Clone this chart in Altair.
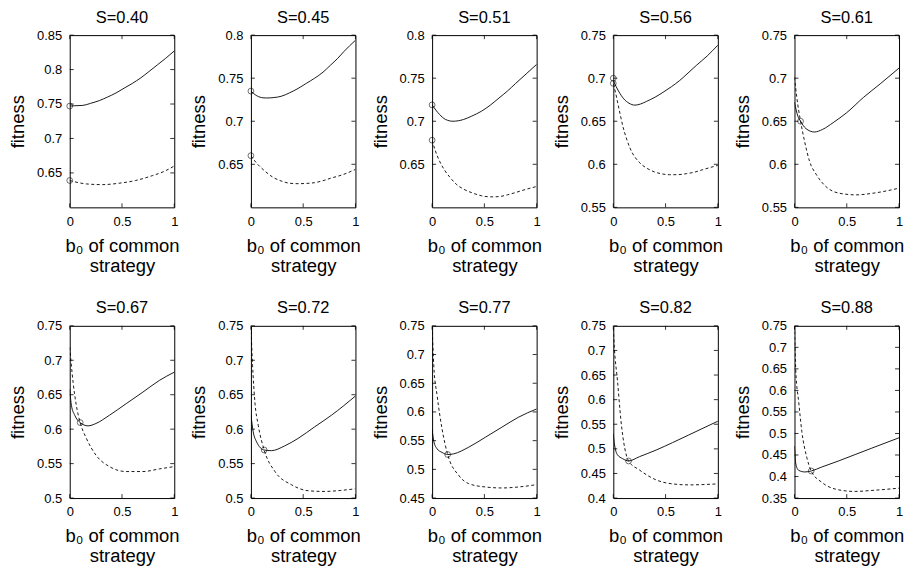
import altair as alt
import pandas as pd

FONT = "Liberation Sans"
W, H = 105, 173

S_LABELS = ["S=0.40", "S=0.45", "S=0.51", "S=0.56", "S=0.61",
            "S=0.67", "S=0.72", "S=0.77", "S=0.82", "S=0.88"]

Y_DOMAINS = [[0.6, 0.85], [0.6, 0.8], [0.6, 0.8], [0.55, 0.75], [0.55, 0.75],
             [0.5, 0.75], [0.5, 0.75], [0.45, 0.75], [0.4, 0.75], [0.35, 0.75]]

Y_TICKS = [
    [0.65, 0.7, 0.75, 0.8, 0.85],
    [0.65, 0.7, 0.75, 0.8],
    [0.65, 0.7, 0.75, 0.8],
    [0.55, 0.6, 0.65, 0.7, 0.75],
    [0.55, 0.6, 0.65, 0.7, 0.75],
    [0.5, 0.55, 0.6, 0.65, 0.7, 0.75],
    [0.5, 0.55, 0.6, 0.65, 0.7, 0.75],
    [0.45, 0.5, 0.55, 0.6, 0.65, 0.7, 0.75],
    [0.4, 0.45, 0.5, 0.55, 0.6, 0.65, 0.7, 0.75],
    [0.35, 0.4, 0.45, 0.5, 0.55, 0.6, 0.65, 0.7, 0.75],
]

X_TICKS = [0, 0.5, 1]

# solid curves (x, fitness)
SOLID_1 = [(0, 0.747), (0.05, 0.7475), (0.126, 0.748), (0.2, 0.751), (0.284, 0.755), (0.36, 0.760),
           (0.442, 0.766), (0.52, 0.773), (0.6, 0.780), (0.68, 0.788), (0.757, 0.797), (0.84, 0.807),
           (0.915, 0.816), (1, 0.827)]
SOLID_2 = [(0, 0.735), (0.05, 0.730), (0.1, 0.7275), (0.15, 0.727), (0.22, 0.7275), (0.29, 0.729),
           (0.37, 0.733), (0.45, 0.738), (0.53, 0.744), (0.61, 0.750), (0.69, 0.757), (0.76, 0.765),
           (0.83, 0.773), (0.89, 0.781), (1, 0.794)]
SOLID_3 = [(0, 0.719), (0.07, 0.708), (0.13, 0.702), (0.2, 0.700), (0.3, 0.702), (0.38, 0.706),
           (0.47, 0.7115), (0.56, 0.719), (0.64, 0.727), (0.72, 0.735), (0.8, 0.744), (0.9, 0.755),
           (1, 0.766)]
SOLID_4 = [(0, 0.697), (0.05, 0.685), (0.1, 0.676), (0.15, 0.671), (0.206, 0.6687), (0.26, 0.670),
           (0.317, 0.673), (0.4, 0.678), (0.476, 0.6836), (0.555, 0.690), (0.635, 0.6973),
           (0.715, 0.706), (0.794, 0.7148), (0.9, 0.726), (1, 0.7383)]
SOLID_5 = [(0, 0.672), (0.032, 0.656), (0.058, 0.650), (0.11, 0.6414), (0.19, 0.6375), (0.27, 0.6406),
           (0.37, 0.6484), (0.5, 0.660), (0.66, 0.6777), (0.82, 0.6934), (1, 0.7117)]
SOLID_6 = [(0, 0.658), (0.016, 0.6346), (0.048, 0.6202), (0.1, 0.6096), (0.175, 0.6048), (0.25, 0.6082),
           (0.38, 0.6202), (0.54, 0.637), (0.7, 0.6538), (0.857, 0.6707), (1, 0.6827)]
SOLID_7 = [(0, 0.621), (0.022, 0.5962), (0.054, 0.5817), (0.127, 0.5697), (0.197, 0.5688),
           (0.32, 0.5755), (0.45, 0.5865), (0.61, 0.6034), (0.77, 0.6202), (1, 0.6481)]
SOLID_8 = [(0, 0.570), (0.016, 0.549), (0.048, 0.5357), (0.095, 0.5295), (0.149, 0.5258), (0.206, 0.527),
           (0.35, 0.5386), (0.51, 0.556), (0.667, 0.5734), (0.825, 0.5907), (1, 0.6052)]
SOLID_9 = [(0, 0.531), (0.01, 0.511), (0.04, 0.488), (0.09, 0.480), (0.146, 0.4754), (0.25, 0.4841),
           (0.41, 0.4976), (0.565, 0.5125), (0.72, 0.528), (1, 0.5562)]
SOLID_10 = [(0, 0.471), (0.013, 0.429), (0.04, 0.4144), (0.1, 0.4106), (0.16, 0.4129), (0.26, 0.422),
            (0.42, 0.436), (0.58, 0.451), (0.74, 0.466), (1, 0.490)]

# dashed curves (x, fitness)
DASH_1 = [(0, 0.639), (0.08, 0.636), (0.16, 0.634), (0.315, 0.633), (0.47, 0.635), (0.63, 0.639),
          (0.79, 0.646), (0.9, 0.652), (1, 0.660)]
DASH_2 = [(0, 0.660), (0.05, 0.652), (0.135, 0.642), (0.21, 0.635), (0.29, 0.6306), (0.37, 0.628),
          (0.45, 0.6275), (0.53, 0.6278), (0.61, 0.6287), (0.69, 0.631), (0.76, 0.6337), (0.88, 0.638),
          (1, 0.644)]
DASH_3 = [(0, 0.678), (0.03, 0.666), (0.07, 0.654), (0.12, 0.643), (0.17, 0.635), (0.23, 0.627),
          (0.3, 0.6212), (0.38, 0.617), (0.47, 0.6135), (0.56, 0.6122), (0.64, 0.6125), (0.72, 0.6145),
          (0.8, 0.6173), (0.9, 0.621), (1, 0.6242)]
DASH_4 = [(0, 0.693), (0.02, 0.684), (0.048, 0.668), (0.095, 0.6426), (0.159, 0.6191), (0.254, 0.6016),
          (0.32, 0.5955), (0.38, 0.5918), (0.46, 0.589), (0.54, 0.5879), (0.62, 0.588), (0.698, 0.5891),
          (0.78, 0.591), (0.857, 0.5938), (1, 0.5988)]
DASH_5 = [(0, 0.701), (0.022, 0.6777), (0.058, 0.650), (0.096, 0.627), (0.144, 0.6035), (0.21, 0.5879),
          (0.3, 0.5742), (0.43, 0.5664), (0.59, 0.5645), (0.75, 0.5664), (0.88, 0.5691), (1, 0.5723)]
DASH_6 = [(0, 0.719), (0.032, 0.6683), (0.063, 0.6346), (0.1, 0.6096), (0.16, 0.5865), (0.25, 0.5625),
          (0.38, 0.5457), (0.54, 0.5385), (0.7, 0.5385), (0.857, 0.5423), (1, 0.5457)]
DASH_7 = [(0, 0.750), (0.016, 0.6923), (0.038, 0.6394), (0.07, 0.6058), (0.127, 0.5697), (0.23, 0.5385),
          (0.39, 0.5192), (0.55, 0.5106), (0.7, 0.5096), (0.86, 0.5111), (1, 0.5135)]
DASH_8 = [(0, 0.750), (0.016, 0.6805), (0.048, 0.6284), (0.095, 0.5705), (0.149, 0.5258), (0.254, 0.4896),
          (0.35, 0.4751), (0.51, 0.4693), (0.667, 0.4676), (0.825, 0.4693), (1, 0.4734)]
DASH_9 = [(0, 0.745), (0.01, 0.706), (0.04, 0.6386), (0.073, 0.558), (0.146, 0.4754), (0.25, 0.4571),
          (0.41, 0.4369), (0.565, 0.4288), (0.72, 0.4268), (1, 0.4288)]
DASH_10 = [(0, 0.750), (0.013, 0.643), (0.04, 0.5741), (0.07, 0.5053), (0.118, 0.4441), (0.16, 0.4129),
           (0.26, 0.3868), (0.42, 0.3692), (0.58, 0.3654), (0.74, 0.3677), (1, 0.373)]

# circle markers (x, fitness)
CIRC_1 = [(0, 0.747), (0, 0.639)]
CIRC_2 = [(0, 0.735), (0, 0.660)]
CIRC_3 = [(0, 0.719), (0, 0.678)]
CIRC_4 = [(0, 0.700), (0, 0.694)]
CIRC_5 = [(0.058, 0.650)]
CIRC_6 = [(0.1, 0.6096)]
CIRC_7 = [(0.127, 0.5697)]
CIRC_8 = [(0.149, 0.5258)]
CIRC_9 = [(0.146, 0.4754)]
CIRC_10 = [(0.16, 0.4129)]

SOLIDS = [SOLID_1, SOLID_2, SOLID_3, SOLID_4, SOLID_5, SOLID_6, SOLID_7, SOLID_8, SOLID_9, SOLID_10]
DASHES = [DASH_1, DASH_2, DASH_3, DASH_4, DASH_5, DASH_6, DASH_7, DASH_8, DASH_9, DASH_10]
CIRCS = [CIRC_1, CIRC_2, CIRC_3, CIRC_4, CIRC_5, CIRC_6, CIRC_7, CIRC_8, CIRC_9, CIRC_10]


def df(pairs):
    return pd.DataFrame(pairs, columns=["x", "y"])


def panel(i):
    dom = Y_DOMAINS[i]
    xs = alt.Scale(domain=[0, 1], nice=False, zero=False)
    ys = alt.Scale(domain=dom, nice=False, zero=False)
    xaxis = alt.Axis(
        values=X_TICKS, format="~g", ticks=False, domain=False, grid=False,
        labelPadding=8, labelFontSize=13, title=["b\u2080 of common", "strategy"],
        titleFontSize=18.5, titleLineHeight=20, titlePadding=8,
        titleFontWeight="normal", labelFlush=False)
    yaxis = alt.Axis(
        values=Y_TICKS[i], format="~g", ticks=False, domain=False, grid=False,
        labelPadding=8, labelFontSize=13, title="fitness", titleFontSize=18.5,
        titlePadding=9, titleFontWeight="normal", labelFlush=False)
    X = alt.X("x:Q", scale=xs, axis=xaxis)
    Y = alt.Y("y:Q", scale=ys, axis=yaxis)

    solid = alt.Chart(df(SOLIDS[i])).mark_line(
        color="black", strokeWidth=0.9, interpolate="monotone", clip=True
    ).encode(x=X, y=Y)
    dashed = alt.Chart(df(DASHES[i])).mark_line(
        color="black", strokeWidth=0.9, strokeDash=[3, 2.5], interpolate="monotone", clip=True
    ).encode(x=X, y=Y)
    circ = alt.Chart(df(CIRCS[i])).mark_point(
        shape="circle", filled=False, size=34, color="black", strokeWidth=0.8
    ).encode(x=X, y=Y)

    yt = pd.DataFrame({"y": Y_TICKS[i]})
    xt = pd.DataFrame({"x": X_TICKS})
    tl = alt.Chart(yt).mark_rule(color="black", strokeWidth=0.8).encode(
        y=Y, x=alt.value(0), x2=alt.value(4))
    tr = alt.Chart(yt).mark_rule(color="black", strokeWidth=0.8).encode(
        y=Y, x=alt.value(W), x2=alt.value(W - 4))
    tb = alt.Chart(xt).mark_rule(color="black", strokeWidth=0.8).encode(
        x=X, y=alt.value(H), y2=alt.value(H - 4))
    tt = alt.Chart(xt).mark_rule(color="black", strokeWidth=0.8).encode(
        x=X, y=alt.value(0), y2=alt.value(4))

    return alt.layer(solid, dashed, circ, tl, tr, tb, tt).properties(
        width=W, height=H,
        title=alt.TitleParams(text=S_LABELS[i], fontSize=16.5, fontWeight="normal",
                              font=FONT, color="black", offset=3, anchor="middle"))


row1 = alt.hconcat(*[panel(i) for i in range(5)], spacing=77, bounds="flush")
row2 = alt.hconcat(*[panel(i) for i in range(5, 10)], spacing=77, bounds="flush")

chart = alt.vconcat(row1, row2, spacing=H + 119, bounds="flush").properties(
    padding={"left": 0, "top": 0, "right": 0, "bottom": 0}
).configure(font=FONT).configure_view(
    stroke="black", strokeWidth=1
).configure_axis(
    labelColor="black", titleColor="black", labelFont=FONT, titleFont=FONT
)

chart.save("out.html", embed_options={"renderer": "svg", "actions": False})
